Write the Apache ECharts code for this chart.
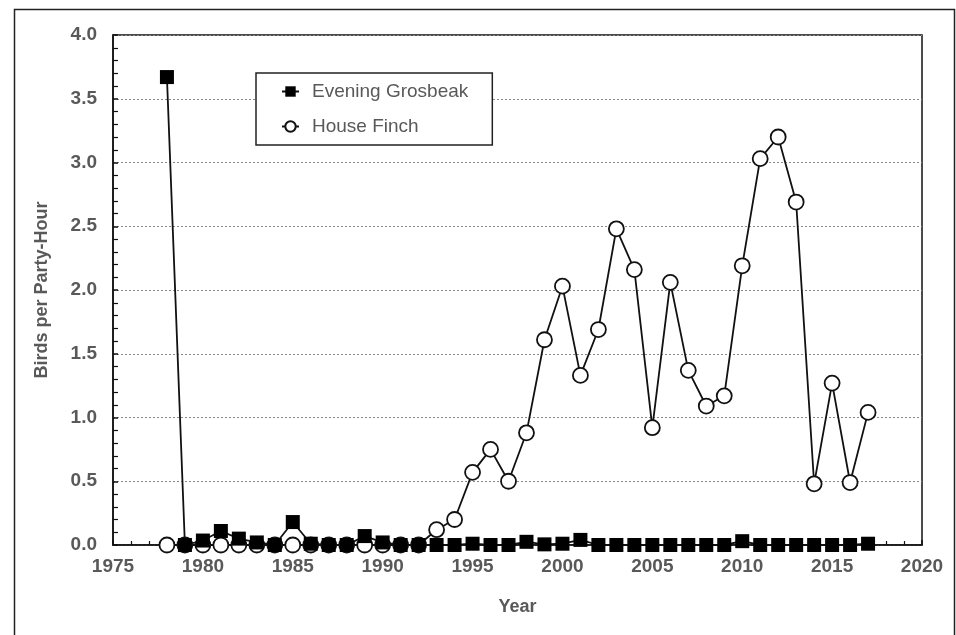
<!DOCTYPE html>
<html>
<head>
<meta charset="utf-8">
<script src="https://cdn.jsdelivr.net/npm/echarts@6/dist/echarts.min.js"></script>
<style>
html,body{margin:0;padding:0;background:#fff;}
#chart{width:956px;height:635px;}
</style>
</head>
<body>
<div id="chart"></div>
<script>
const years = [1978,1979,1980,1981,1982,1983,1984,1985,1986,1987,1988,1989,1990,1991,1992,1993,1994,1995,1996,1997,1998,1999,2000,2001,2002,2003,2004,2005,2006,2007,2008,2009,2010,2011,2012,2013,2014,2015,2016,2017];
const eveningGrosbeak = [3.67,0.00,0.035,0.11,0.05,0.02,0.00,0.18,0.01,0.00,0.00,0.07,0.02,0.00,0.00,0.00,0.00,0.01,0.00,0.00,0.025,0.005,0.01,0.04,0.00,0.00,0.00,0.00,0.00,0.00,0.00,0.00,0.03,0.00,0.00,0.00,0.00,0.00,0.00,0.01];
const houseFinch = [0,0,0,0,0,0,0,0,0,0,0,0,0,0,0,0.12,0.20,0.57,0.75,0.50,0.88,1.61,2.03,1.33,1.69,2.48,2.16,0.92,2.06,1.37,1.09,1.17,2.19,3.03,3.20,2.69,0.48,1.27,0.49,1.04];
const seriesNames = ['Evening Grosbeak','House Finch'];
const xTitle = 'Year';
const yTitle = 'Birds per Party-Hour';

const gray = '#595959';
const chart = echarts.init(document.getElementById('chart'));
const pair = (arr) => years.map((y, i) => [y, arr[i]]);

chart.setOption({
  animation: false,
  backgroundColor: '#fff',
  textStyle: { fontFamily: 'Liberation Sans, Arial, sans-serif' },
  grid: {
    left: 113, right: 34, top: 35, bottom: 90,
    show: true, borderColor: '#111', borderWidth: 1.5, backgroundColor: 'transparent'
  },
  legend: {
    orient: 'vertical',
    left: 256, top: 73,
    padding: [8, 24, 8, 25],
    itemGap: 14,
    itemWidth: 17, itemHeight: 13,
    backgroundColor: '#fff',
    borderColor: '#222', borderWidth: 1.5,
    textStyle: { fontSize: 19, color: gray, fontFamily: 'Liberation Sans, Arial, sans-serif', padding: [0,0,0,8], lineHeight: 21 },
    data: seriesNames
  },
  xAxis: {
    type: 'value', min: 1975, max: 2020, interval: 5,
    name: xTitle, nameLocation: 'middle', nameGap: 53,
    nameTextStyle: { fontSize: 18, fontWeight: 'bold', color: gray },
    axisLine: { show: true, onZero: false, lineStyle: { color: '#111', width: 1.5 } },
    axisTick: { show: true, inside: true, length: 5, lineStyle: { color: '#111', width: 1.5 } },
    minorTick: { show: true, splitNumber: 5, length: 4, lineStyle: { color: '#111', width: 1.2 } },
    axisLabel: { fontSize: 19, fontWeight: 'bold', color: gray, margin: 12, formatter: v => String(v) },
    splitLine: { show: false }
  },
  yAxis: {
    type: 'value', min: 0, max: 4, interval: 0.5,
    name: yTitle, nameLocation: 'middle', nameGap: 62, nameRotate: 90,
    nameTextStyle: { fontSize: 18, fontWeight: 'bold', color: gray },
    axisLine: { show: true, lineStyle: { color: '#111', width: 1.5 } },
    axisTick: { show: true, inside: true, length: 5, lineStyle: { color: '#111', width: 1.5 } },
    minorTick: { show: true, splitNumber: 5, length: 5, lineStyle: { color: '#111', width: 1.2 } },
    axisLabel: { fontSize: 19, fontWeight: 'bold', color: gray, margin: 16, formatter: v => v.toFixed(1) },
    splitLine: { show: true, lineStyle: { type: [2, 2], color: '#888', width: 1 } }
  },
  series: [
    {
      name: seriesNames[1], type: 'line', z: 2,
      data: pair(houseFinch),
      symbol: 'circle', symbolSize: 15,
      lineStyle: { color: '#111', width: 1.8 },
      itemStyle: { color: '#fff', borderColor: '#111', borderWidth: 1.8 }
    },
    {
      name: seriesNames[0], type: 'line', z: 3,
      data: pair(eveningGrosbeak),
      symbol: 'rect', symbolSize: 14,
      lineStyle: { color: '#111', width: 1.8 },
      itemStyle: { color: '#000', borderColor: '#000', borderWidth: 0 }
    }
  ],
  graphic: [
    { type: 'rect', left: 12, top: 7, shape: { x: 0, y: 0, width: 940, height: 700 },
      style: { fill: 'none', stroke: '#222', lineWidth: 1.5 }, silent: true, z: -1 }
  ]
});
</script>
</body>
</html>
